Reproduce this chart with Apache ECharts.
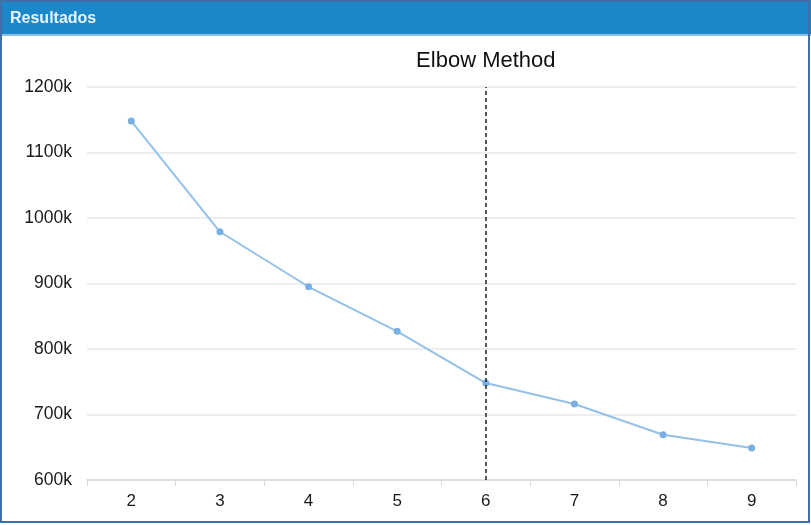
<!DOCTYPE html>
<html><head><meta charset="utf-8">
<script src="https://cdn.jsdelivr.net/npm/echarts@6/dist/echarts.min.js"></script>
<style>html,body{margin:0;padding:0;background:#fff}#c{width:811px;height:525px}</style>
</head><body><div id="c"></div>
<script>
const categories = ['2','3','4','5','6','7','8','9'];
const inertia = [1148000, 979000, 895000, 827000, 748000, 716000, 669000, 649000];
const elbowCategory = '6';
const elbowLabel = 'Elbow Method';
const headerTitle = 'Resultados';

const chart = echarts.init(document.getElementById('c'));
chart.setOption({
  animation: false,
  textStyle: { fontFamily: 'Liberation Sans, Arial, sans-serif' },
  graphic: [
    { type: 'rect', shape: { x: 0, y: 0, width: 811, height: 35 }, style: { fill: '#1a88c9' }, z: 10 },
    { type: 'rect', shape: { x: 0, y: 34, width: 811, height: 2 }, style: { fill: '#8cc0e2' }, z: 10 },
    { type: 'text', x: 10, y: 11, style: { text: headerTitle, fill: '#e8f3fb', font: 'bold 16px Liberation Sans, Arial, sans-serif' }, z: 11 },
    { type: 'rect', shape: { x: 1, y: 1, width: 808, height: 521 }, style: { fill: 'none', stroke: '#3f6fa3', lineWidth: 2 }, z: 12 }
  ],
  grid: { left: 87, right: 15, top: 87, bottom: 45 },
  xAxis: {
    type: 'category',
    data: categories,
    boundaryGap: true,
    axisLine: { lineStyle: { color: '#d5dae2', width: 1.5 } },
    axisTick: { show: true, length: 6, lineStyle: { color: '#d5dae2' } },
    axisLabel: { color: '#1a1a1a', fontSize: 17, margin: 13 }
  },
  yAxis: {
    type: 'value',
    min: 600000, max: 1200000, interval: 100000,
    axisLine: { show: false },
    axisTick: { show: false },
    axisLabel: { color: '#1a1a1a', fontSize: 17.5, margin: 15, formatter: v => (v / 1000) + 'k' },
    splitLine: { lineStyle: { color: '#e6e8eb', width: 1.5 } }
  },
  series: [{
    type: 'line',
    data: inertia,
    symbol: 'circle',
    symbolSize: 7,
    lineStyle: { color: '#94c1e8', width: 2 },
    itemStyle: { color: '#79b0e3' },
    markLine: {
      silent: true,
      symbol: 'none',
      data: [{ xAxis: elbowCategory }],
      lineStyle: { color: '#222', type: [4, 3], width: 1.5 },
      label: { show: true, position: 'end', formatter: elbowLabel, color: '#111', fontSize: 22, distance: 15 }
    }
  }]
});
</script></body></html>
